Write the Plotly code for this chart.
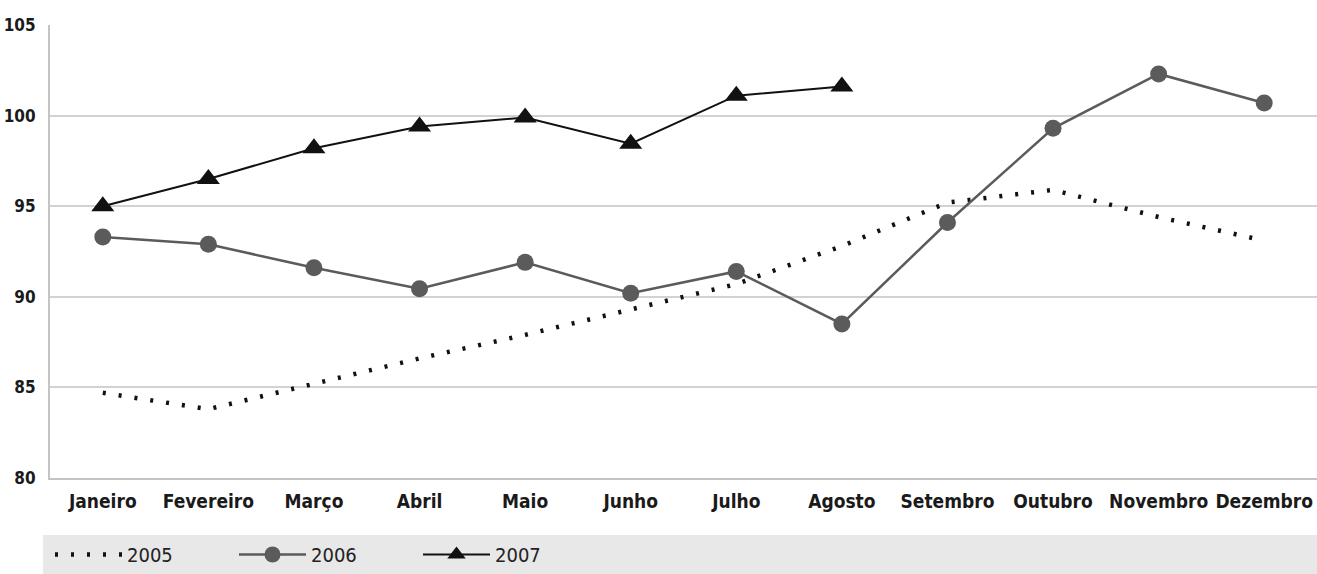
import plotly.graph_objects as go

months = ["Janeiro", "Fevereiro", "Março", "Abril", "Maio", "Junho",
          "Julho", "Agosto", "Setembro", "Outubro", "Novembro", "Dezembro"]
y2005 = [84.7, 83.8, 85.2, 86.6, 87.9, 89.3, 90.7, 92.8, 95.2, 95.9, 94.4, 93.1]
y2006 = [93.3, 92.9, 91.6, 90.45, 91.9, 90.2, 91.4, 88.5, 94.1, 99.3, 102.3, 100.7]
y2007 = [95.0, 96.5, 98.2, 99.4, 99.9, 98.45, 101.1, 101.6]
months2007 = months[:len(y2007)]
yticks = [80, 85, 90, 95, 100, 105]

AXFONT = "Liberation Sans Narrow, DejaVu Sans Condensed, Arial Narrow, sans-serif"

fig = go.Figure()
fig.add_trace(go.Scatter(
    x=months, y=y2005, name="2005", mode="lines",
    line=dict(color="#111111", width=4.5, dash="3px,13px"),
))
fig.add_trace(go.Scatter(
    x=months, y=y2006, name="2006", mode="lines+markers",
    line=dict(color="#5b5b5b", width=2.5),
    marker=dict(symbol="circle", size=17, color="#5b5b5b"),
))
fig.add_trace(go.Scatter(
    x=months2007, y=y2007, name="2007", mode="lines+markers",
    line=dict(color="#111111", width=2),
    marker=dict(symbol="triangle-up", size=20, color="#111111"),
))

fig.add_shape(type="rect", xref="paper", yref="paper",
              x0=-0.0055, x1=1.0, y0=-0.215, y1=-0.126,
              fillcolor="#e8e8e8", line=dict(width=0), layer="below")

fig.update_layout(
    width=1317, height=574,
    margin=dict(l=50, r=0, t=25, b=96),
    paper_bgcolor="white", plot_bgcolor="white",
    showlegend=True,
    legend=dict(
        orientation="h", x=0.0, y=-0.17, xanchor="left", yanchor="middle",
        bgcolor="rgba(0,0,0,0)",
        font=dict(family=AXFONT, size=20, color="#222222"),
        entrywidth=102, entrywidthmode="pixels",
        itemwidth=67,
    ),
    xaxis=dict(
        type="category", categoryorder="array", categoryarray=months,
        range=[-0.5, 11.5],
        showgrid=False, showline=True, linecolor="#c4c4c4", linewidth=2,
        ticks="", ticklabelstandoff=5,
        tickfont=dict(family=AXFONT, size=19, color="#1a1a1a", weight="bold"),
        fixedrange=True,
    ),
    yaxis=dict(
        range=[80, 105], tickvals=yticks, ticktext=[str(v) for v in yticks],
        showgrid=True, gridcolor="#d2d2d2", gridwidth=2,
        showline=True, linecolor="#c4c4c4", linewidth=2,
        zeroline=False, ticks="", ticklabelstandoff=9,
        tickfont=dict(family=AXFONT, size=17, color="#1a1a1a", weight="bold"),
    ),
)

fig.write_html("out.html")
